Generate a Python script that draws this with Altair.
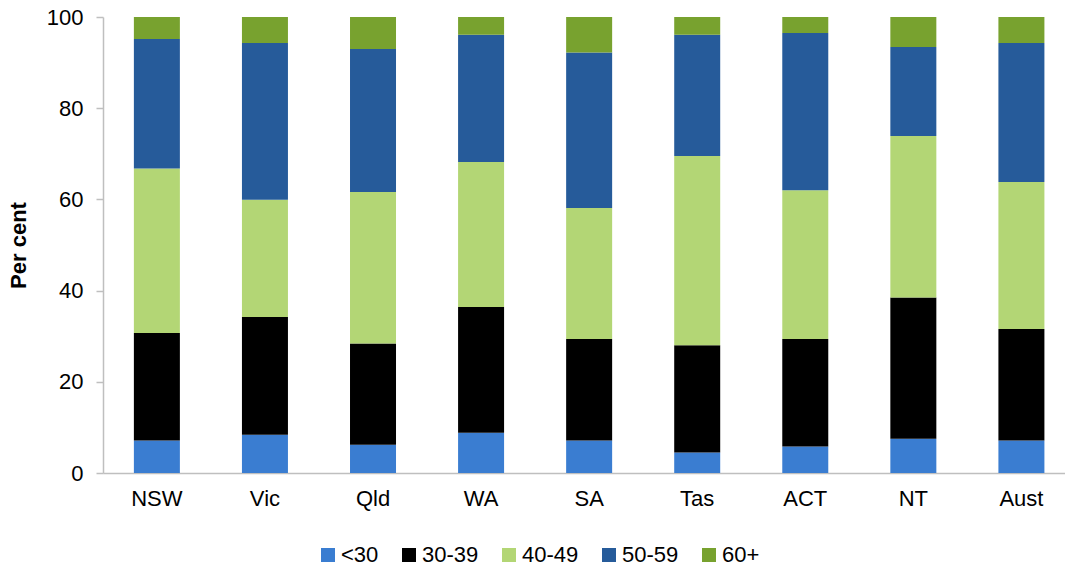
import altair as alt
import pandas as pd

# Age distribution by state/territory (per cent)
states = ["NSW", "Vic", "Qld", "WA", "SA", "Tas", "ACT", "NT", "Aust"]
age_groups = ["<30", "30-39", "40-49", "50-59", "60+"]
colors = ["#3A7DD1", "#000000", "#B3D675", "#265B9A", "#78A22F"]

under_30 = [7.1, 8.4, 6.2, 8.8, 7.1, 4.5, 5.8, 7.5, 7.1]
age_30_39 = [23.6, 25.8, 22.2, 27.6, 22.3, 23.5, 23.6, 31.0, 24.5]
age_40_49 = [36.1, 25.7, 33.2, 31.8, 28.7, 41.5, 32.6, 35.4, 32.2]
age_50_59 = [28.4, 34.4, 31.4, 27.9, 34.1, 26.6, 34.5, 19.5, 30.5]
age_60_plus = [4.8, 5.7, 7.0, 3.9, 7.8, 3.9, 3.5, 6.6, 5.7]

series = [under_30, age_30_39, age_40_49, age_50_59, age_60_plus]

rows = []
for gi, (group, values) in enumerate(zip(age_groups, series)):
    for state, v in zip(states, values):
        rows.append({"state": state, "group": group, "order": gi, "value": v})
df = pd.DataFrame(rows)

font = "Liberation Sans"

chart = alt.Chart(df).mark_bar(size=46).encode(
    x=alt.X(
        "state:N",
        sort=states,
        scale=alt.Scale(paddingInner=0.574, paddingOuter=0.238, align=0.6),
        axis=alt.Axis(
            title=None,
            labelAngle=0,
            ticks=False,
            labelPadding=15,
            domainColor="#BFBFBF",
            domainWidth=1.5,
        ),
    ),
    y=alt.Y(
        "value:Q",
        stack="zero",
        scale=alt.Scale(domain=[0, 100], nice=False),
        axis=alt.Axis(
            title="Per cent",
            values=[0, 20, 40, 60, 80, 100],
            grid=False,
            tickSize=7,
            tickColor="#BFBFBF",
            tickWidth=1.5,
            domainColor="#BFBFBF",
            domainWidth=1.5,
            labelPadding=13,
            titleFontWeight="bold",
            titlePadding=16,
        ),
    ),
    color=alt.Color(
        "group:N",
        sort=age_groups,
        scale=alt.Scale(domain=age_groups, range=colors),
        legend=alt.Legend(
            title=None,
            orient="none",
            direction="horizontal",
            legendX=214,
            legendY=527,
            symbolType="square",
            symbolSize=196,
            symbolStrokeWidth=0,
            labelFontSize=22,
            labelOffset=2,
            columnPadding=19,
            labelFont=font,
            labelColor="#000000",
        ),
    ),
    order=alt.Order("order:Q", sort="ascending"),
).properties(
    width=962,
    height=456,
    autosize=alt.AutoSizeParams(type="none"),
    padding={"left": 103, "top": 17, "right": 0, "bottom": 93},
).configure_view(
    stroke=None
).configure_axis(
    labelFont=font,
    titleFont=font,
    labelFontSize=22,
    titleFontSize=22,
    labelColor="#000000",
    titleColor="#000000",
)

chart.save("out.html", embed_options={"renderer": "svg", "actions": False})
